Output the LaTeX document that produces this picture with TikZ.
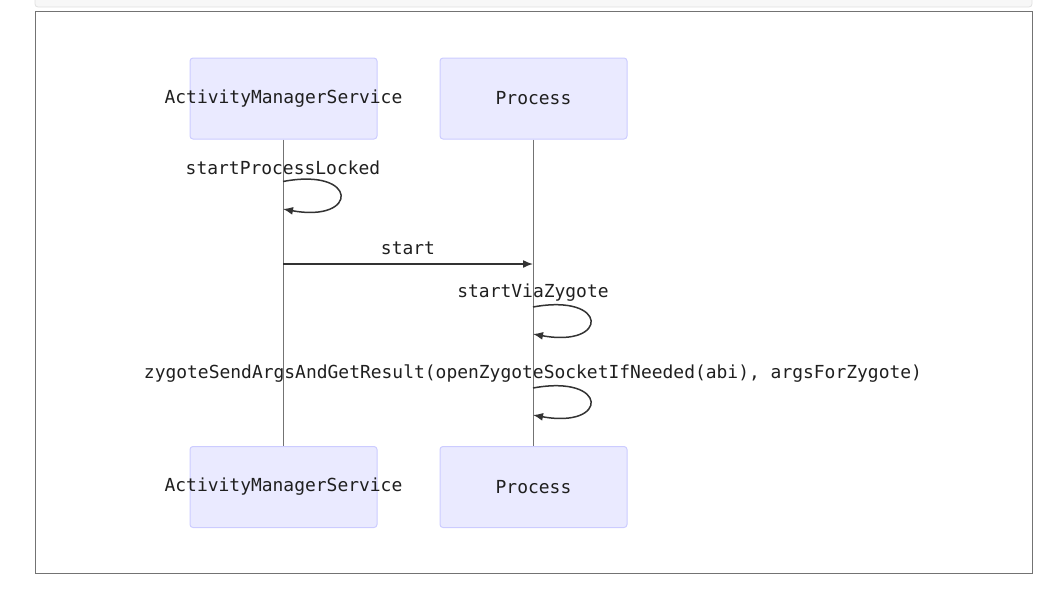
\documentclass[tikz,border=0pt]{standalone}
\usepackage{fontspec}
\setmonofont{DejaVu Sans Mono}
\usetikzlibrary{arrows.meta}
\definecolor{actfill}{HTML}{EAEAFF}
\definecolor{actline}{HTML}{CCCCFF}
\definecolor{ink}{HTML}{333333}
\definecolor{txt}{HTML}{1F1F1F}
\tikzset{
  actor/.style={draw=actline, fill=actfill, rounded corners=3pt, line width=1pt, minimum width=187pt, minimum height=81pt, inner sep=0pt},
  lbl/.style={font=\fontsize{17.95}{20}\ttfamily, text=txt, inner sep=0pt},
  life/.style={draw=black!55, line width=0.8pt},
  msg/.style={draw=ink, line width=1.5pt, -{Latex[length=10pt,width=8pt]}}
}
\begin{document}
\begin{tikzpicture}[x=1pt,y=-1pt]
\useasboundingbox (0,0) rectangle (1062,590);
% header strip
\draw[fill=black!3, draw=black!12, line width=0.8pt, rounded corners=3pt] (35,-6) rectangle (1032,7);
% frame
\draw[draw=black!55, line width=1pt] (35.5,11.5) rectangle (1032,573);
% actors
\node[actor] (amsT) at (283.5,98.5) {};
\node[actor] (prT) at (533.5,98.5) {};
\node[actor] (amsB) at (283.5,487) {};
\node[actor] (prB) at (533.5,487) {};
\node[lbl] at (amsT.center) {ActivityManagerService};
\node[lbl] at (prT.center) {Process};
\node[lbl] at (amsB.center) {ActivityManagerService};
\node[lbl] at (prB.center) {Process};
% message labels
\node[lbl] (l1) at (283,168) {startProcessLocked};
\node[lbl] (l2) at (408,248) {start};
\node[lbl] (l3) at (533,293) {startViaZygote};
\node[lbl] (l4) at (533,374) {zygoteSendArgsAndGetResult(openZygoteSocketIfNeeded(abi), argsForZygote)};
% lifelines
\draw[life] (amsT.south) -- (amsB.north);
\draw[life] (prT.south) -- (prB.north);
% messages
\coordinate (a1) at (283,181.5);
\coordinate (b1) at (283,209);
\draw[msg] (a1) .. controls (359,167) and (359,223) .. (b1);
\coordinate (a2) at (283,264);
\coordinate (b2) at (533,264);
\draw[msg] (a2) -- (b2);
\coordinate (a3) at (533,307);
\coordinate (b3) at (533,334);
\draw[msg] (a3) .. controls (609,293) and (609,348) .. (b3);
\coordinate (a4) at (533,388);
\coordinate (b4) at (533,415);
\draw[msg] (a4) .. controls (609,374) and (609,429) .. (b4);
\end{tikzpicture}
\end{document}
